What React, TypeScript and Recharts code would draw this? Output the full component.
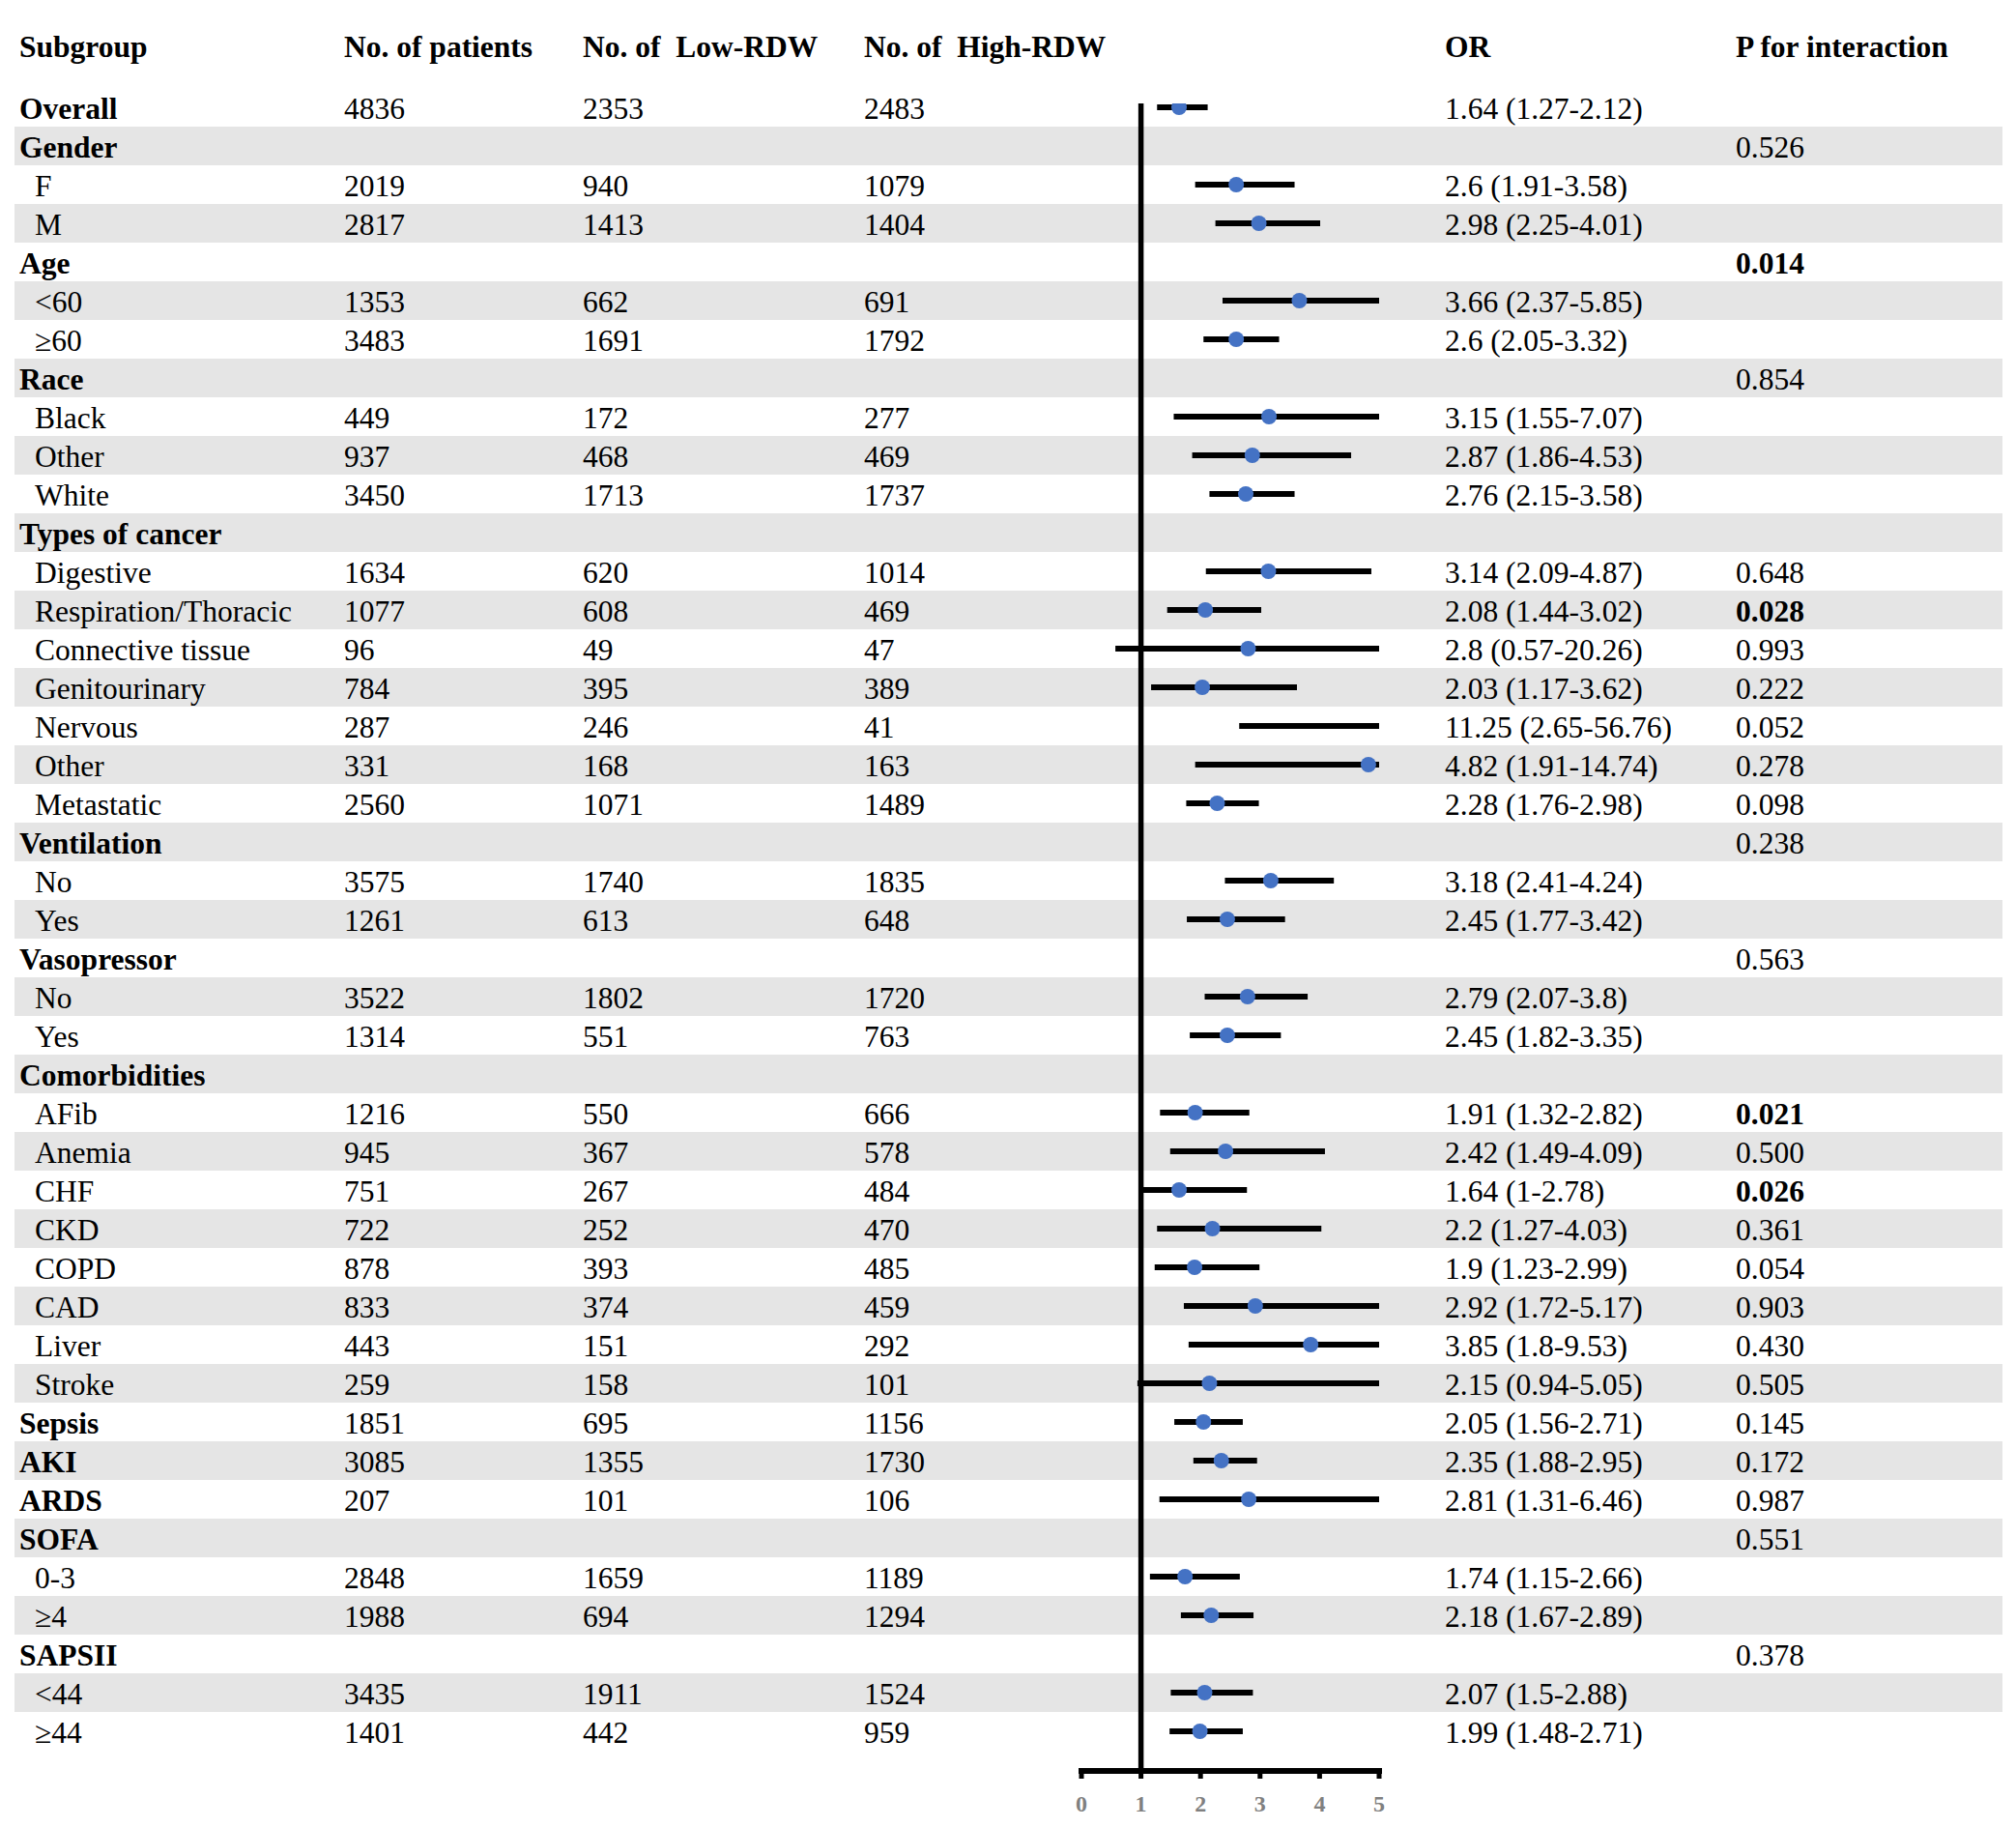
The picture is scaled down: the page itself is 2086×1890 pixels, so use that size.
import React from "react"
import { ComposedChart, Bar, Line, XAxis, YAxis, ReferenceLine } from "recharts"

const subgroups = [
  "Overall", "Gender", "F", "M", "Age", "<60", "≥60", "Race", "Black", "Other", "White",
  "Types of cancer", "Digestive", "Respiration/Thoracic", "Connective tissue", "Genitourinary",
  "Nervous", "Other", "Metastatic", "Ventilation", "No", "Yes", "Vasopressor", "No", "Yes",
  "Comorbidities", "AFib", "Anemia", "CHF", "CKD", "COPD", "CAD", "Liver", "Stroke",
  "Sepsis", "AKI", "ARDS", "SOFA", "0-3", "≥4", "SAPSII", "<44", "≥44",
]
const headings = [
  "Overall", "Gender", "Age", "Race", "Types of cancer", "Ventilation", "Vasopressor",
  "Comorbidities", "Sepsis", "AKI", "ARDS", "SOFA", "SAPSII",
]

const patients = [4836, null, 2019, 2817, null, 1353, 3483, null, 449, 937, 3450, null, 1634, 1077, 96, 784, 287, 331, 2560, null, 3575, 1261, null, 3522, 1314, null, 1216, 945, 751, 722, 878, 833, 443, 259, 1851, 3085, 207, null, 2848, 1988, null, 3435, 1401]
const lowRdw = [2353, null, 940, 1413, null, 662, 1691, null, 172, 468, 1713, null, 620, 608, 49, 395, 246, 168, 1071, null, 1740, 613, null, 1802, 551, null, 550, 367, 267, 252, 393, 374, 151, 158, 695, 1355, 101, null, 1659, 694, null, 1911, 442]
const highRdw = [2483, null, 1079, 1404, null, 691, 1792, null, 277, 469, 1737, null, 1014, 469, 47, 389, 41, 163, 1489, null, 1835, 648, null, 1720, 763, null, 666, 578, 484, 470, 485, 459, 292, 101, 1156, 1730, 106, null, 1189, 1294, null, 1524, 959]
const oddsRatio = [1.64, null, 2.6, 2.98, null, 3.66, 2.6, null, 3.15, 2.87, 2.76, null, 3.14, 2.08, 2.8, 2.03, 11.25, 4.82, 2.28, null, 3.18, 2.45, null, 2.79, 2.45, null, 1.91, 2.42, 1.64, 2.2, 1.9, 2.92, 3.85, 2.15, 2.05, 2.35, 2.81, null, 1.74, 2.18, null, 2.07, 1.99]
const ciLow = [1.27, null, 1.91, 2.25, null, 2.37, 2.05, null, 1.55, 1.86, 2.15, null, 2.09, 1.44, 0.57, 1.17, 2.65, 1.91, 1.76, null, 2.41, 1.77, null, 2.07, 1.82, null, 1.32, 1.49, 1, 1.27, 1.23, 1.72, 1.8, 0.94, 1.56, 1.88, 1.31, null, 1.15, 1.67, null, 1.5, 1.48]
const ciHigh = [2.12, null, 3.58, 4.01, null, 5.85, 3.32, null, 7.07, 4.53, 3.58, null, 4.87, 3.02, 20.26, 3.62, 56.76, 14.74, 2.98, null, 4.24, 3.42, null, 3.8, 3.35, null, 2.82, 4.09, 2.78, 4.03, 2.99, 5.17, 9.53, 5.05, 2.71, 2.95, 6.46, null, 2.66, 2.89, null, 2.88, 2.71]
const pInteraction = ["", "0.526", "", "", "0.014", "", "", "0.854", "", "", "", "", "0.648", "0.028", "0.993", "0.222", "0.052", "0.278", "0.098", "0.238", "", "", "0.563", "", "", "", "0.021", "0.500", "0.026", "0.361", "0.054", "0.903", "0.430", "0.505", "0.145", "0.172", "0.987", "0.551", "", "", "0.378", "", ""]
const boldP = ["0.014", "0.028", "0.021", "0.026"]

const xTicks = [0, 1, 2, 3, 4, 5]

const W = 2086
const H = 1890
const ROW0 = 111 // centre of first row
const ROW_H = 40
const TEXT_SHIFT = 1.5
const FONT = "'Liberation Serif', 'Times New Roman', serif"

const chartData = subgroups.map((_, i) => ({
  row: i,
  or: oddsRatio[i],
  ci: ciLow[i] != null ? [ciLow[i], ciHigh[i]] : null,
}))

function Cell({ x, top, bold, children }: { x: number; top: number; bold?: boolean; children: React.ReactNode }) {
  return (
    <div
      style={{
        position: "absolute",
        left: x,
        top: top + TEXT_SHIFT,
        height: ROW_H,
        lineHeight: `${ROW_H}px`,
        whiteSpace: "pre",
        fontWeight: bold ? 700 : 400,
      }}
    >
      {children}
    </div>
  )
}

export default function App() {
  const cols = { sub: 20, subIndent: 36, pat: 356, low: 603, high: 894, or: 1495, p: 1796 }
  const headerTop = 58 - 30.5

  return (
    <div style={{ position: "relative", width: W, height: H, background: "#fff", fontFamily: FONT, fontSize: 31.5, color: "#000" }}>
      <style>{"body{margin:0}"}</style>

      {/* zebra bands */}
      {subgroups.map((_, i) =>
        i % 2 === 1 ? (
          <div
            key={"band" + i}
            style={{ position: "absolute", left: 15, width: 2072 - 15, top: ROW0 + ROW_H * i - ROW_H / 2, height: ROW_H, background: "#e5e5e5" }}
          />
        ) : null
      )}

      {/* header */}
      <Cell x={cols.sub} top={headerTop} bold>Subgroup</Cell>
      <Cell x={cols.pat} top={headerTop} bold>No. of patients</Cell>
      <Cell x={cols.low} top={headerTop} bold>{"No. of  Low-RDW"}</Cell>
      <Cell x={cols.high} top={headerTop} bold>{"No. of  High-RDW"}</Cell>
      <Cell x={cols.or} top={headerTop} bold>OR</Cell>
      <Cell x={cols.p} top={headerTop} bold>P for interaction</Cell>

      {/* table rows */}
      {subgroups.map((name, i) => {
        const top = ROW0 + ROW_H * i - ROW_H / 2
        const heading = headings.includes(name)
        const or = oddsRatio[i]
        return (
          <React.Fragment key={"row" + i}>
            <Cell x={heading ? cols.sub : cols.subIndent} top={top} bold={heading}>{name}</Cell>
            {patients[i] != null && <Cell x={cols.pat} top={top}>{patients[i]}</Cell>}
            {lowRdw[i] != null && <Cell x={cols.low} top={top}>{lowRdw[i]}</Cell>}
            {highRdw[i] != null && <Cell x={cols.high} top={top}>{highRdw[i]}</Cell>}
            {or != null && <Cell x={cols.or} top={top}>{`${or} (${ciLow[i]}-${ciHigh[i]})`}</Cell>}
            {pInteraction[i] && (
              <Cell x={cols.p} top={top} bold={boldP.includes(pInteraction[i])}>{pInteraction[i]}</Cell>
            )}
          </React.Fragment>
        )
      })}

      {/* forest plot */}
      <div style={{ position: "absolute", left: 0, top: 0 }}>
        <ComposedChart
          width={W}
          height={H}
          data={chartData}
          layout="vertical"
          margin={{ top: 107, right: W - 1427, bottom: 8, left: 1119 }}
        >
          <XAxis
            type="number"
            domain={[0, 5]}
            ticks={xTicks}
            interval={0}
            allowDataOverflow
            height={50}
            axisLine={{ stroke: "#000", strokeWidth: 6, strokeLinecap: "square" }}
            tickLine={{ stroke: "#000", strokeWidth: 5 }}
            tickSize={8}
            tickMargin={17}
            tick={{ fill: "#808080", fontSize: 24, fontWeight: 700, fontFamily: FONT }}
          />
          <YAxis type="number" dataKey="row" domain={[-0.1, 43.025]} hide allowDataOverflow />
          <Bar dataKey="ci" barSize={6} fill="#000" isAnimationActive={false} />
          <ReferenceLine x={1} stroke="#000" strokeWidth={5.5} />
          <Line
            dataKey="or"
            stroke="none"
            strokeWidth={0}
            dot={{ r: 8, fill: "#4472C4", stroke: "none" }}
            activeDot={false}
            isAnimationActive={false}
          />
        </ComposedChart>
      </div>
    </div>
  )
}
